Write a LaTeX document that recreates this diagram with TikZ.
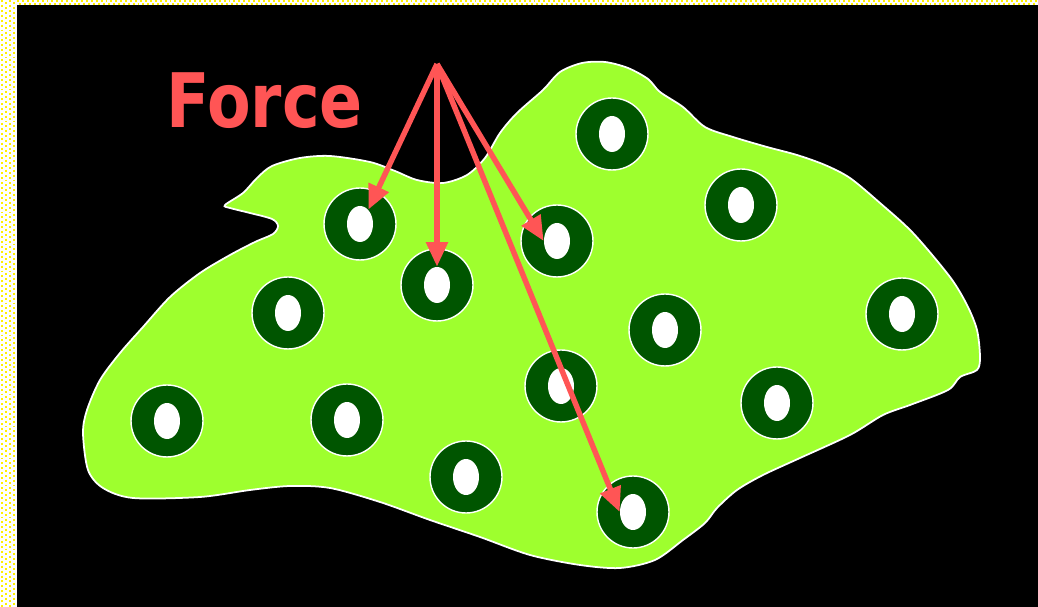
\documentclass[tikz,border=0pt]{standalone}
\usepackage{fontspec}
\usepackage{graphicx}
\usetikzlibrary{arrows.meta, shapes.geometric}
\newfontfamily\forcefont{DejaVu Sans}
\definecolor{blobgreen}{RGB}{158,255,46}
\definecolor{ringgreen}{RGB}{0,85,0}
\definecolor{forcered}{RGB}{255,85,85}
\definecolor{dotyellow}{RGB}{255,240,0}

\begin{document}
\begin{tikzpicture}[x=0.02cm, y=-0.02cm, >={Triangle[length=14pt, width=12pt]},
  ring/.style={circle, draw=white, line width=0.8pt, fill=ringgreen,
               minimum size=1.44cm, inner sep=0pt},
  hole/.style={ellipse, fill=white, minimum width=0.52cm,
               minimum height=0.72cm, inner sep=0pt},
  push/.style={->, draw=forcered, line width=3.1pt},
  dotrow/.style={draw=dotyellow, line width=1.1pt, dash pattern=on 1.1pt off 1.7pt}]
\useasboundingbox (0,0) rectangle (1038,607);
\fill[white] (0,0) rectangle (1038,607);
\foreach \k/\ph in {2/0, 6/1.4, 10/0, 14/1.4}
  \draw[dotrow, dash phase=\ph pt] (\k,0) -- (\k,607);
\foreach \k/\ph in {1.2/0, 3.8/1.4}
  \draw[dotrow, dash phase=\ph pt] (17,\k) -- (1038,\k);
\fill[black] (17,5) rectangle (1038,607);
\filldraw[fill=blobgreen, draw=white, line width=1pt]
  plot[smooth cycle, tension=0.5] coordinates {
  (225,205) (243,193) (257,178) (272,166) (300,158) (330,156) (370,162)
  (395,171) (417,180) (443,183) (467,175) (485,158) (500,133) (517,113)
  (543,90) (560,72) (582,63) (605,62) (628,68) (648,79) (660,92)
  (683,107) (705,127) (733,137) (767,147) (797,155) (825,165) (850,178)
  (880,203) (913,233) (950,277) (967,305) (977,330) (980,357) (977,370)
  (960,377) (948,390) (910,405) (883,415) (850,435) (800,458) (763,475)
  (737,490) (717,508) (705,523) (683,540) (655,560) (620,568) (580,565)
  (530,555) (480,537) (430,520) (380,502) (330,488) (290,486) (250,490)
  (200,497) (133,498) (103,488) (88,470) (83,433) (87,410) (100,380)
  (120,353) (143,327) (170,297) (200,273) (230,255) (255,242) (273,234)
  (278,226) (272,219) (250,213) (230,208)};
\foreach \n/\x/\y in {1/612/134, 2/741/205, 3/360/224, 4/557/241,
  5/437/285, 6/288/313, 7/665/330, 8/902/314, 9/561/386, 10/777/403,
  11/167/421, 12/347/420, 13/466/477, 14/633/512} {
  \node[ring] (r\n) at (\x,\y) {};
  \node[hole] (h\n) at (r\n) {};
}
\node[anchor=base west, inner sep=0pt, text=forcered] (force) at (166,128)
  {\scalebox{0.845}[1]{\fontsize{42.8pt}{48pt}\forcefont\bfseries Force}};
\coordinate (src) at (437,64);
\draw[push] (src) -- (h3.60);
\draw[push] (src) -- (h5.north);
\draw[push] (src) -- (h4.west);
\draw[push] (src) -- (h14.west);
\end{tikzpicture}
\end{document}
